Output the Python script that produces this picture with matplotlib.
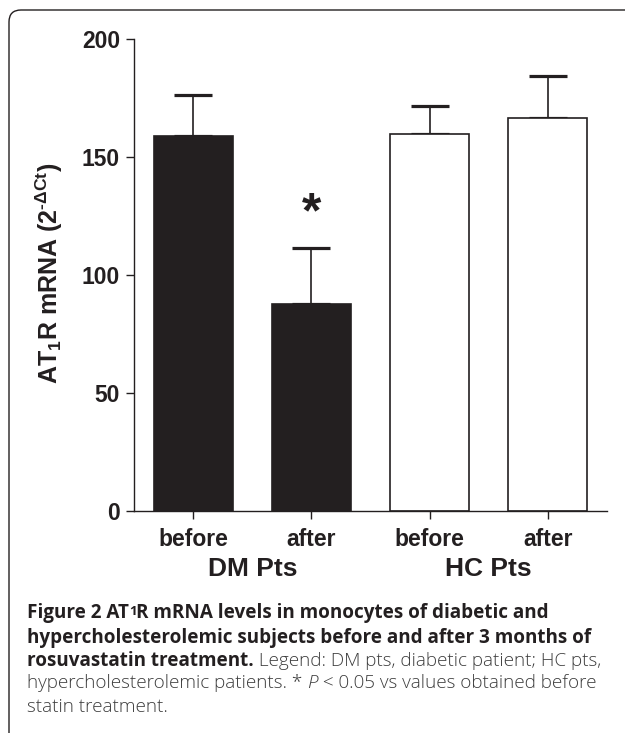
import matplotlib
matplotlib.use("Agg")
import matplotlib.pyplot as plt
from matplotlib.path import Path
from matplotlib.patches import PathPatch

plt.rcParams['font.family'] = ['Liberation Sans', 'DejaVu Sans']
plt.rcParams['mathtext.default'] = 'regular'

# data
groups = ['DM Pts', 'HC Pts']
conditions = ['before', 'after', 'before', 'after']
means = [159.2, 87.7, 160.0, 166.7]
sem = [17.2, 24.0, 11.8, 17.9]
fills = ['#231f20', '#231f20', 'white', 'white']
yticks = [0, 50, 100, 150, 200]

ink = '#231f20'

fig = plt.figure(figsize=(6.25, 7.33), dpi=100)

# frame: left and top edges with a rounded corner, the rest runs off the page
r = 12
x0, ytop = 9, 733 - 10
verts = [(x0, -50), (x0, ytop - r), (x0, ytop), (x0 + r, ytop), (900, ytop)]
codes = [Path.MOVETO, Path.LINETO, Path.CURVE3, Path.CURVE3, Path.LINETO]
verts = [(vx/100, vy/100) for vx, vy in verts]
fig.patches.append(PathPatch(Path(verts, codes), transform=fig.dpi_scale_trans,
                             fill=False, ec=ink, lw=1.0))

ax = fig.add_axes([134/625, 222/733, 473/625, 471.7/733])
x = list(range(len(means)))
ax.bar(x, means, width=0.67, color=fills, edgecolor=ink, linewidth=1.2, zorder=2)
ax.errorbar(x, means, yerr=[[0]*len(sem), sem], fmt='none', ecolor=ink,
            elinewidth=1.2, capsize=14, capthick=2.3, zorder=1)

ax.set_xlim(-0.5, 3.5)
ax.set_ylim(0, 200)
ax.set_yticks(yticks)
ax.set_xticks(x)
ax.set_xticklabels(conditions)
for s in ['top', 'right']:
    ax.spines[s].set_visible(False)
for s in ['left', 'bottom']:
    ax.spines[s].set_color(ink)
    ax.spines[s].set_linewidth(1.0)
ax.tick_params(axis='both', colors=ink, width=1.0, length=6, labelsize=16.5, pad=4)
ax.tick_params(axis='x', pad=6)
for lab in ax.get_xticklabels() + ax.get_yticklabels():
    lab.set_fontweight('bold')

ax.set_ylabel('AT$_1$R mRNA (2$^{\u2010\\Delta Ct}$)', fontsize=18, fontweight='bold', color=ink)
ax.yaxis.set_label_coords(-0.145, 0.505)

# significance mark
ax.text(1, 126, '*', ha='center', va='center', fontsize=36, fontweight='bold', color=ink)

# group labels
for i, g in enumerate(groups):
    ax.text(2*i + 0.5, -0.124, g, transform=ax.get_xaxis_transform(), ha='center', va='center',
            fontsize=19, fontweight='bold', color=ink)

# caption, pieced together segment by segment
fig.canvas.draw()
renderer = fig.canvas.get_renderer()
cap_font = ['Open Sans', 'DejaVu Sans']
cap_size = 13.6
bold = dict(fontweight='bold', color=ink)
reg = dict(fontweight='light', color='#3d3d3d')
ital = dict(fontweight='light', style='italic', color='#3d3d3d')


def caption_line(segs, xl, ybase):
    xx = xl
    for txt, kw, dy, scale in segs:
        t = fig.text(xx/100, (733 - ybase - dy)/100, txt, transform=fig.dpi_scale_trans,
                     family=cap_font, fontsize=cap_size*scale, va='baseline', ha='left', **kw)
        xx += t.get_window_extent(renderer).width


caption_line([('Figure 2 AT', bold, 0, 1), ('1', bold, -3, 0.7),
              ('R mRNA levels in monocytes of diabetic and', bold, 0, 1)], 27, 618)
caption_line([('hypercholesterolemic subjects before and after 3 months of', bold, 0, 1)], 27, 642.5)
caption_line([('rosuvastatin treatment.', bold, 0, 1),
              (' Legend: DM pts, diabetic patient; HC pts,', reg, 0, 1)], 27, 665.5)
caption_line([('hypercholesterolemic patients. * ', reg, 0, 1), ('P', ital, 0, 1),
              (' < 0.05 vs values obtained before', reg, 0, 1)], 27, 688.5)
caption_line([('statin treatment.', reg, 0, 1)], 27, 712)

fig.savefig('out.png', dpi=100)
